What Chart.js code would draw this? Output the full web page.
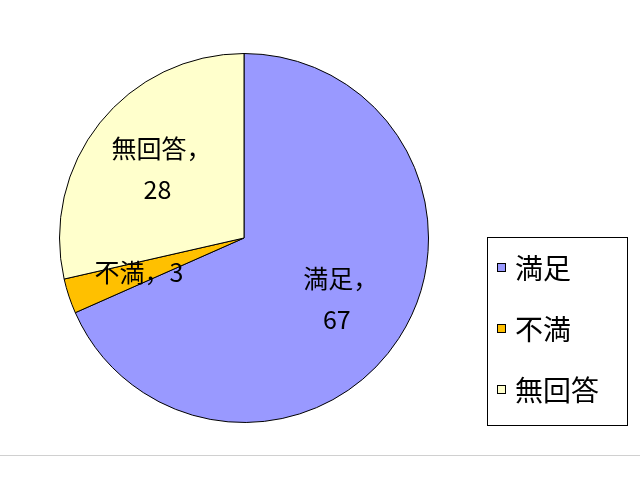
<!DOCTYPE html>
<html>
<head>
<meta charset="utf-8">
<script src="https://cdn.jsdelivr.net/npm/chart.js@4/dist/chart.umd.min.js"></script>
<style>
  body { margin: 0; background: #fff; }
  #wrap { position: relative; width: 640px; height: 480px; }
  #rule { position: absolute; left: 0; top: 455px; width: 640px; height: 1px; background: #d0d0d0; }
</style>
</head>
<body>
<div id="wrap">
  <canvas id="chart" width="640" height="480"></canvas>
  <div id="rule"></div>
</div>
<script>
// 回答データ
const categorias = ['満足', '不満', '無回答'];
const valores = [67, 3, 28];
const colores = ['#9999FF', '#FFC000', '#FFFFCC'];

const fuente = '"Noto Sans CJK JP", "Noto Sans", sans-serif';

// ラベル（分類名，値）をスライスの中に描く
const etiquetas = {
  id: 'etiquetas',
  afterDatasetsDraw(chart) {
    const ctx = chart.ctx;
    const arcs = chart.getDatasetMeta(0).data;
    ctx.save();
    ctx.fillStyle = '#000';
    ctx.font = '25px ' + fuente;
    ctx.textAlign = 'center';
    ctx.textBaseline = 'middle';
    arcs.forEach((arc, i) => {
      const { x, y, startAngle, endAngle, outerRadius } = arc.getProps(['x', 'y', 'startAngle', 'endAngle', 'outerRadius'], true);
      const mid = (startAngle + endAngle) / 2;
      const r = outerRadius * 0.6;
      const cx = x + Math.cos(mid) * r;
      const cy = y + Math.sin(mid) * r;
      if (valores[i] < 5) {
        ctx.fillText(categorias[i] + '，' + valores[i], cx, cy);
      } else {
        ctx.fillText(categorias[i] + '，', cx + 4, cy - 20);
        ctx.fillText(String(valores[i]), cx, cy + 21);
      }
    });
    ctx.restore();
  }
};

// 枠付きの凡例
const leyenda = {
  id: 'leyenda',
  afterDraw(chart) {
    const ctx = chart.ctx;
    const x0 = 487, y0 = 237, w = 140, h = 188;
    ctx.save();
    ctx.strokeStyle = '#000';
    ctx.lineWidth = 1;
    ctx.strokeRect(x0 + 0.5, y0 + 0.5, w, h);
    ctx.font = '28px ' + fuente;
    ctx.textBaseline = 'middle';
    ctx.textAlign = 'left';
    categorias.forEach((c, i) => {
      const yc = y0 + 31 + i * 61;
      ctx.fillStyle = colores[i];
      ctx.fillRect(x0 + 10, yc - 5, 9, 9);
      ctx.strokeRect(x0 + 10.5, yc - 4.5, 8, 8);
      ctx.fillStyle = '#000';
      ctx.fillText(c, x0 + 28, yc);
    });
    ctx.restore();
  }
};

const ctx = document.getElementById('chart').getContext('2d');

const chart = new Chart(ctx, {
  type: 'pie',
  data: {
    labels: categorias,
    datasets: [{
      data: valores,
      backgroundColor: colores,
      borderColor: '#000',
      borderWidth: 1
    }]
  },
  options: {
    responsive: false,
    animation: false,
    layout: {
      padding: { left: 59, right: 211, top: 53, bottom: 57 }
    },
    plugins: {
      legend: { display: false },
      tooltip: { enabled: false }
    }
  },
  plugins: [etiquetas, leyenda]
});
</script>
</body>
</html>
